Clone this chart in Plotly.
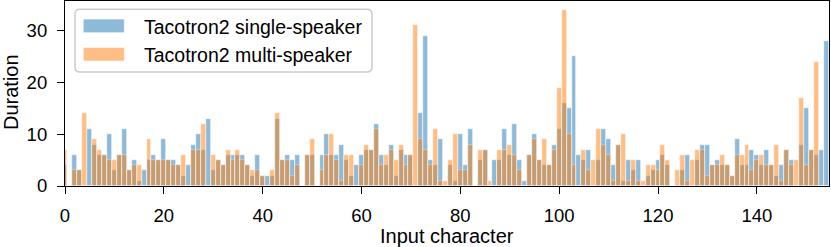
import plotly.graph_objects as go

# ---- data ----
single_speaker = [4, 0, 6, 3, 0, 11, 8, 6, 6, 10, 3, 6, 11, 3, 5, 1, 3, 5, 6, 5,
                  9, 5, 5, 4, 2, 4, 8, 10, 7, 13, 3, 5, 4, 6, 6, 6, 6, 4, 2, 6,
                  2, 2, 2, 13, 5, 6, 5, 6, 0, 6, 6, 0, 6, 10, 6, 6, 8, 5, 2, 4,
                  6, 7, 7, 12, 6, 4, 8, 2, 7, 6, 6, 0, 14, 29, 5, 4, 9, 0, 4, 1,
                  10, 4, 11, 0, 5, 7, 0, 5, 5, 11, 6, 12, 5, 1, 6, 10, 5, 4, 4, 8,
                  11, 16, 15, 25, 6, 5, 7, 0, 5, 11, 9, 4, 8, 1, 5, 3, 5, 0, 2, 3,
                  5, 6, 4, 0, 0, 3, 6, 0, 5, 8, 8, 4, 5, 4, 4, 2, 9, 4, 4, 7,
                  6, 4, 7, 4, 2, 4, 7, 5, 0, 8, 15, 7, 6, 7, 28]
multi_speaker = [7, 0, 3, 3, 14, 0, 9, 7, 6, 5, 5, 6, 6, 3, 4, 4, 0, 9, 5, 5,
                 5, 5, 4, 4, 6, 0, 7, 7, 12, 0, 6, 5, 4, 7, 5, 7, 5, 4, 3, 3,
                 2, 0, 3, 14, 5, 5, 2, 4, 0, 6, 9, 0, 3, 6, 10, 5, 1, 6, 6, 0,
                 4, 8, 7, 11, 4, 6, 7, 5, 8, 4, 6, 31, 9, 7, 4, 11, 1, 1, 5, 10,
                 3, 3, 8, 0, 7, 7, 1, 0, 7, 7, 8, 6, 3, 0, 6, 9, 5, 9, 4, 7,
                 19, 34, 10, 4, 0, 7, 3, 5, 11, 8, 6, 1, 8, 10, 1, 5, 1, 1, 4, 4,
                 3, 8, 5, 0, 3, 6, 1, 5, 7, 7, 2, 4, 4, 6, 4, 2, 6, 6, 8, 3,
                 5, 6, 4, 4, 8, 1, 7, 4, 5, 17, 4, 7, 24, 0, 0]
positions = list(range(len(single_speaker)))
series_names = ["Tacotron2 single-speaker", "Tacotron2 multi-speaker"]
x_ticks = [0, 20, 40, 60, 80, 100, 120, 140]
y_ticks = [0, 10, 20, 30]

BLUE = "#1f77b4"
ORANGE = "#ff7f0e"
FONT = "Liberation Sans"

W, H = 831, 247
L, R, T, B = 65, 829, 1, 186   # plot area in pixels


def px(xp):
    return (xp - L) / (R - L)


def py(yp):
    return (B - yp) / (B - T)


fig = go.Figure()
for vals, col, name in [(single_speaker, BLUE, series_names[0]),
                        (multi_speaker, ORANGE, series_names[1])]:
    fig.add_trace(go.Bar(
        x=positions, y=vals, name=name, width=1.0,
        marker=dict(color=col, line=dict(color="white", width=0.6)),
        opacity=0.5, showlegend=False,
    ))

axis_common = dict(
    showgrid=False, zeroline=False, showline=True, mirror=True,
    linecolor="black", linewidth=1.2, ticks="outside", ticklen=7,
    tickwidth=1.2, tickcolor="black", automargin=False,
    tickfont=dict(family=FONT, size=18.5, color="black"),
)
fig.update_layout(
    width=W, height=H,
    margin=dict(l=L, r=W - R, t=T, b=H - B, pad=0, autoexpand=False),
    plot_bgcolor="white", paper_bgcolor="white",
    barmode="overlay", bargap=0,
    xaxis=dict(range=[0, 154.6], tickvals=x_ticks, ticklabelstandoff=6,
               **axis_common),
    yaxis=dict(range=[0, 35.7], tickvals=y_ticks, ticklabelstandoff=6,
               **axis_common),
    showlegend=False,
)

# axis titles
fig.add_annotation(text="Input character", xref="paper", yref="paper",
                   x=px(447), y=py(236.3), xanchor="center", yanchor="middle",
                   showarrow=False, borderpad=0,
                   font=dict(family=FONT, size=20, color="black"))
fig.add_annotation(text="Duration", xref="paper", yref="paper",
                   x=px(10.5), y=py(92.5), xanchor="center", yanchor="middle",
                   textangle=-90, showarrow=False, borderpad=0,
                   font=dict(family=FONT, size=20, color="black"))

# legend drawn manually (matplotlib style: wide swatches, rounded frame)
x0, x1, y0, y1, r = 75, 372, 9.3, 72, 5
rx, ry = r / (R - L), r / (B - T)
X0, X1, Y0, Y1 = px(x0), px(x1), py(y0), py(y1)
path = (f"M{X0 + rx},{Y0} L{X1 - rx},{Y0} Q{X1},{Y0} {X1},{Y0 - ry} "
        f"L{X1},{Y1 + ry} Q{X1},{Y1} {X1 - rx},{Y1} L{X0 + rx},{Y1} "
        f"Q{X0},{Y1} {X0},{Y1 + ry} L{X0},{Y0 - ry} Q{X0},{Y0} {X0 + rx},{Y0} Z")
fig.add_shape(type="path", path=path, xref="paper", yref="paper",
              line=dict(color="#cccccc", width=1.5),
              fillcolor="rgba(255,255,255,0.8)", layer="above")
rows = [(25.9, BLUE, series_names[0]), (54.2, ORANGE, series_names[1])]
for cy, col, name in rows:
    fig.add_shape(type="rect", xref="paper", yref="paper",
                  x0=px(83.3), x1=px(124.3), y0=py(cy - 6.8), y1=py(cy + 6.8),
                  fillcolor=col, opacity=0.5,
                  line=dict(color="white", width=0.6), layer="above")
    fig.add_annotation(text=name, xref="paper", yref="paper",
                       x=px(142.7), y=py(cy + 0.6), xanchor="left",
                       yanchor="middle", showarrow=False, borderpad=0,
                       font=dict(family=FONT, size=19.5, color="black"))

fig.write_html(
    "out.html",
    config={"displayModeBar": False},
    post_script="document.body.style.margin='0';document.body.style.overflow='hidden';",
)
